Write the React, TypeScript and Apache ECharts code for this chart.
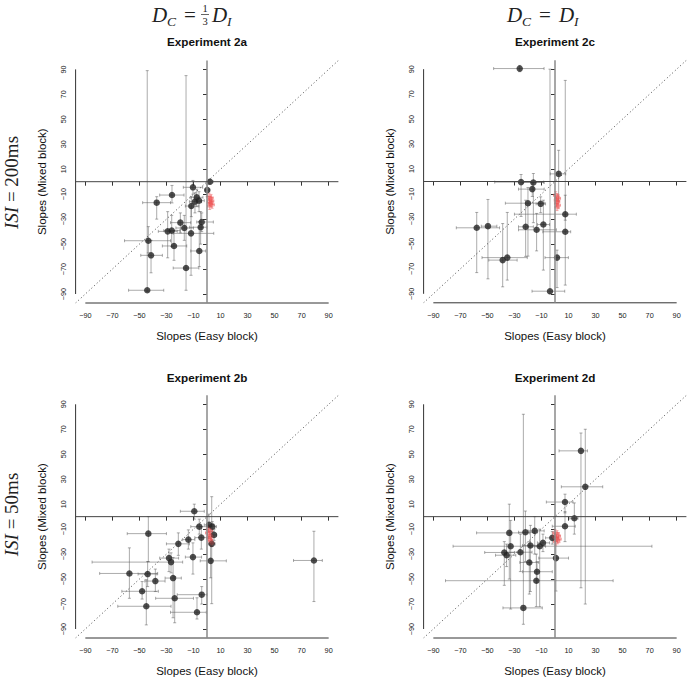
import React, { useEffect, useRef } from "react";
import * as echarts from "echarts";

const TICKS = [-90, -70, -50, -30, -10, 10, 30, 50, 70, 90];
const AXIS_MIN = -97.2;
const AXIS_MAX = 97.2;
const PANEL_TITLES = ["Experiment 2a", "Experiment 2c", "Experiment 2b", "Experiment 2d"];
const X_NAME = "Slopes (Easy block)";
const Y_NAME = "Slopes (Mixed block)";

// Experiment 2a (D_C = 1/3 D_I, ISI = 200ms)
const exp2aX = [2.2, 0.2, -10.4, -25.9, -37.2, -7.6, -5.9, -8.9, -11.6, -19.7, -3.9, -16.8, -4.7, -29.1, -26.1, -11.8, -43.4, -41.4, -24.4, -5.7, -15.5, -44.2];
const exp2aY = [0, -6.7, -4.5, -10.7, -16.8, -12.5, -15.2, -16, -19.5, -32.8, -32.3, -37.1, -36.5, -39.8, -39.2, -41.4, -47.3, -59, -51.5, -55.5, -69.2, -87];
const exp2aXLo = [0, -1.5, -17.5, -35, -47.6, -12, -9, -13, -16, -27, -7.6, -23, -13, -36, -32, -25, -61, -49, -33, -12, -25, -58];
const exp2aXHi = [4.5, 2, -3.2, -17, -27, -3, -2, -4, -6, -12, 4.7, -10, 0, -22, -20, 5, -27, -33, -15, -1, -6, -32];
const exp2aYLo = [-2, -12, -10, -17, -30, -20, -24, -25, -28, -41, -40, -47, -50, -61, -52, -75, -57, -73, -63, -68, -87, -88];
const exp2aYHi = [2, -2, 1, -3, -12, -6, -8, -9, -12, -25, -25, -27, -24, -24, -27, -21, -36, -47, -39, -32, 85, 89];
const exp2aRedX = [1.5, 3, 2.2, 3.5, 1.8, 2.8, 3.8, 2];
const exp2aRedY = [-12, -13, -14.5, -15.5, -16.5, -17.5, -18.5, -19.5];

// Experiment 2c (D_C = D_I, ISI = 200ms)
const exp2cX = [-26.1, 2.7, -25.1, -16, -16.8, -20, -10.6, 7.6, 7.6, -21.7, -8.6, -13.6, -57.9, -49.6, -38.7, -35.3, 1.5, -3.7];
const exp2cY = [90.5, 6.1, -0.5, -0.8, -6.1, -17.4, -17.9, -26.2, -40.3, -36.3, -34.5, -38.7, -37.1, -35.8, -63, -61, -61, -87.9];
const exp2cXLo = [-45.4, -3.5, -44.6, -24, -27, -36.7, -14, -30, -9, -27, -13, -27, -73, -54.5, -49, -54, -7.4, -17];
const exp2cXHi = [-8.1, 7.9, -8.4, -8, -8, -7.9, -7, 15.8, 11.6, -16, -4, 1, -41, -43, -28, -20.5, 9.9, 7.2];
const exp2cYLo = [88, -15, -28, -33, -12, -59.8, -25, -31, -83, -60, -71, -55.6, -73, -78, -84.4, -79, -85, -90];
const exp2cYHi = [93, 25, 5.6, 6.4, -1, -4.8, -12.3, -11, 81, -15, -15, -25.6, -24.8, -14.4, -33.7, -24.8, -55, 90];
const exp2cRedX = [0.5, 1.5, 2.5, 1, 2, 1.2, 2.4, 1.5];
const exp2cRedY = [-11, -12.5, -13.5, -15, -16, -17.5, -19, -20.5];

// Experiment 2b (D_C = 1/3 D_I, ISI = 50ms)
const exp2bX = [-9.4, 1.5, 3.9, -5.7, 5.2, -4.2, 3.5, -43.4, -13.8, -21.2, -28.1, -26.6, -10.4, 2.7, 79.1, -57.4, -43.9, -38.2, -25.1, -48, -23.9, -3.9, -44.9, -7.4];
const exp2bY = [4.3, -6.6, -8, -8, -14.6, -16.8, -21.8, -13.6, -18.4, -21.8, -33.2, -36.4, -32.4, -35.4, -35.1, -45.5, -46, -51.6, -49.2, -59.8, -65.4, -62.5, -71.8, -76.6];
const exp2bXLo = [-19.7, -2, 1, -12, 3, -9, 1, -59, -18, -30, -35, -85, -16, -5, 64, -79.4, -51, -46, -31, -63, -38, -22, -66, -27];
const exp2bXHi = [-2, 5, 7, 1, 7, 1, 6, -30, -9, -13, -21, -18, -4, 14.3, 85.3, -36.5, -37, -31, -19, -36, -10, 0, -26.6, -0.5];
const exp2bYLo = [-2, -12, -12, -14, -19, -26, -69.7, -36, -26, -31, -44, -45, -46, -49, -68, -65.4, -56, -60, -81, -66, -85, -70, -86.7, -82];
const exp2bYHi = [10, 2, -4, -2, -10, -8, 16, 0, -10.6, -13, -26, -29, -21, -22, -11.7, -25, -36, -42, -32.7, -52, -48, -56, -50.5, -65];
const exp2bRedX = [1, 2.5, 0.5, 2, 3, 1.5, 2.5, 3.5];
const exp2bRedY = [-10, -11.5, -13, -14.5, -16, -17.5, -19, -21];

// Experiment 2d (D_C = D_I, ISI = 50ms)
const exp2dX = [19.2, 22.4, 7.4, 14.3, 7.4, -2, -33.8, -21.9, -15, -32.8, -18.2, -11.3, -8.9, -37.5, -35.8, -25.6, -19, 0.7, -13.3, -13.8, -23.4];
const exp2dY = [52.7, 23.9, 11.7, -1.3, -7.7, -17, -13, -12.5, -11.4, -23.7, -23.1, -23.7, -21, -28.7, -30.9, -28.5, -36.7, -33.2, -44.1, -51.3, -73.1];
const exp2dXLo = [3, 4.7, -6.4, 11, -2, -7, -58, -27, -20, -75.4, -24, -15, -13, -52, -44, -36, -26, -12, -24, -81, -38.5];
const exp2dXHi = [24, 35.3, 13.3, 17, 15, 2, -19, -15, -8, 71.7, -12, -7, -4, -30, -29, -17, -12, 10, -2, 43, -9.4];
const exp2dYLo = [-57, -70, 3, -14, -20, -22, -50, -36, -30, -74, -60, -72, -28, -55, -40, -44, -62, -59.6, -53, -72, -86.2];
const exp2dYHi = [67, 70, 18, 11, 4, -12, 10, 4.5, 0, -3, -7, -10, -14, -20, -22, -14, -20, -18, -36, -30, 82];
const exp2dRedX = [0, 1.5, 2.5, -0.5, 1, 3, 2, 0.5];
const exp2dRedY = [-13, -14, -15.5, -16, -17, -18, -19, -20];

type Panel = {
  x: number[]; y: number[]; xLo: number[]; xHi: number[]; yLo: number[]; yHi: number[];
  rx: number[]; ry: number[];
};

const PANELS: Panel[] = [
  { x: exp2aX, y: exp2aY, xLo: exp2aXLo, xHi: exp2aXHi, yLo: exp2aYLo, yHi: exp2aYHi, rx: exp2aRedX, ry: exp2aRedY },
  { x: exp2cX, y: exp2cY, xLo: exp2cXLo, xHi: exp2cXHi, yLo: exp2cYLo, yHi: exp2cYHi, rx: exp2cRedX, ry: exp2cRedY },
  { x: exp2bX, y: exp2bY, xLo: exp2bXLo, xHi: exp2bXHi, yLo: exp2bYLo, yHi: exp2bYHi, rx: exp2bRedX, ry: exp2bRedY },
  { x: exp2dX, y: exp2dY, xLo: exp2dXLo, xHi: exp2dXHi, yLo: exp2dYLo, yHi: exp2dYHi, rx: exp2dRedX, ry: exp2dRedY },
];

const GRID_POS = [
  { left: 75.6, top: 60.4, width: 262.8, height: 242.6 },
  { left: 423.6, top: 60.2, width: 262.8, height: 242.6 },
  { left: 75.6, top: 395.3, width: 262.8, height: 243.8 },
  { left: 423.6, top: 395.3, width: 262.8, height: 243.8 },
];
const TITLE_POS = [
  [207, 41.5], [555, 41.5], [207, 377.5], [555, 377.5],
];

const SANS = "Liberation Sans, Arial, Helvetica, sans-serif";
const SERIF = "Liberation Serif, Times New Roman, serif";

function errRender(color: string, cap: number) {
  return (params: any, api: any) => {
    const x = api.value(0), y = api.value(1);
    const xl = api.value(2), xh = api.value(3), yl = api.value(4), yh = api.value(5);
    const pL = api.coord([xl, y]);
    const pR = api.coord([xh, y]);
    const pB = api.coord([x, yl]);
    const pT = api.coord([x, yh]);
    const style = { stroke: color, lineWidth: 1, fill: "none" };
    const ln = (x1: number, y1: number, x2: number, y2: number) => ({
      type: "line", shape: { x1, y1, x2, y2 }, style,
    });
    return {
      type: "group",
      children: [
        ln(pL[0], pL[1], pR[0], pR[1]),
        ln(pL[0], pL[1] - cap, pL[0], pL[1] + cap),
        ln(pR[0], pR[1] - cap, pR[0], pR[1] + cap),
        ln(pB[0], pB[1], pT[0], pT[1]),
        ln(pB[0] - cap, pB[1], pB[0] + cap, pB[1]),
        ln(pT[0] - cap, pT[1], pT[0] + cap, pT[1]),
      ],
    };
  };
}

const fmt = (v: number) => String(v).replace("-", "\u2212");

function buildOption() {
  const grid: any[] = [];
  const xAxis: any[] = [];
  const yAxis: any[] = [];
  const series: any[] = [];
  const graphic: any[] = [];

  PANELS.forEach((p, i) => {
    grid.push({ ...GRID_POS[i], containLabel: false });
    xAxis.push({
      gridIndex: i, type: "value", min: AXIS_MIN, max: AXIS_MAX,
      splitLine: { show: false },
      axisLine: { show: false },
      axisTick: { show: true, customValues: TICKS, length: 4, lineStyle: { color: "#333", width: 1 } },
      axisLabel: { customValues: TICKS, fontSize: 7.3, color: "#222", margin: 9, fontFamily: SANS, formatter: fmt },
      name: X_NAME, nameLocation: "middle", nameGap: 27,
      nameTextStyle: { fontSize: 11.5, color: "#111", fontFamily: SANS },
    });
    yAxis.push({
      gridIndex: i, type: "value", min: AXIS_MIN, max: AXIS_MAX,
      splitLine: { show: false },
      axisLine: { show: false },
      axisTick: { show: true, customValues: TICKS, length: 4, lineStyle: { color: "#333", width: 1 } },
      axisLabel: { customValues: TICKS, fontSize: 7.3, color: "#222", margin: 9, rotate: 90, fontFamily: SANS, formatter: fmt },
      name: Y_NAME, nameLocation: "middle", nameGap: 28,
      nameTextStyle: { fontSize: 11.5, color: "#111", fontFamily: SANS },
    });

    const ax = { xAxisIndex: i, yAxisIndex: i };
    // axis lines (R style, from first to last tick)
    series.push({
      type: "line", ...ax, data: [[TICKS[0], AXIS_MIN], [TICKS[TICKS.length - 1], AXIS_MIN]],
      symbol: "none", clip: false, silent: true, lineStyle: { color: "#333", width: 1 },
    });
    series.push({
      type: "line", ...ax, data: [[AXIS_MIN, TICKS[0]], [AXIS_MIN, TICKS[TICKS.length - 1]]],
      symbol: "none", clip: false, silent: true, lineStyle: { color: "#333", width: 1 },
    });
    // identity diagonal
    series.push({
      type: "line", ...ax, data: [[AXIS_MIN, AXIS_MIN], [AXIS_MAX, AXIS_MAX]],
      symbol: "none", silent: true, lineStyle: { color: "#333", width: 0.9, type: [1, 2.6] },
    });
    // zero lines
    series.push({
      type: "line", ...ax, data: [[0, AXIS_MIN], [0, AXIS_MAX]],
      symbol: "none", silent: true, clip: false, lineStyle: { color: "#8a8a8a", width: 1.5 },
    });
    series.push({
      type: "line", ...ax, data: [[AXIS_MIN, 0], [AXIS_MAX, 0]],
      symbol: "none", silent: true, clip: false, lineStyle: { color: "#444", width: 1 },
    });
    // error bars (black participants)
    series.push({
      type: "custom", ...ax,
      data: p.x.map((v, k) => [v, p.y[k], p.xLo[k], p.xHi[k], p.yLo[k], p.yHi[k]]),
      encode: { x: 0, y: 1 },
      renderItem: errRender("rgba(90,90,90,0.5)", 1.5),
      silent: true,
    });
    // red group (error bars)
    series.push({
      type: "custom", ...ax,
      data: p.rx.map((v, k) => [v, p.ry[k], v - 1.6, v + 1.6, p.ry[k] - 2.8, p.ry[k] + 2.8]),
      encode: { x: 0, y: 1 },
      renderItem: errRender("rgba(235,80,80,0.45)", 1.5),
      silent: true,
    });
    series.push({
      type: "scatter", ...ax,
      data: p.x.map((v, k) => [v, p.y[k]]),
      symbol: "circle", symbolSize: 6.5,
      itemStyle: { color: "#232323" },
      silent: true,
    });
    series.push({
      type: "scatter", ...ax,
      data: p.rx.map((v, k) => [v, p.ry[k]]),
      symbol: "circle", symbolSize: 5,
      itemStyle: { color: "rgba(240,90,90,0.35)" },
      silent: true,
    });

    graphic.push({
      type: "text", x: TITLE_POS[i][0], y: TITLE_POS[i][1],
      style: {
        text: PANEL_TITLES[i], fontSize: 11.7, fontWeight: "bold", fontFamily: SANS,
        fill: "#111", align: "center", verticalAlign: "middle",
      },
    });
  });

  // column headers
  const it = (text: string, x: number, y: number, size: number, italic = true, align = "left") => ({
    type: "text", x, y,
    style: {
      text, fontSize: size, fontStyle: italic ? "italic" : "normal", fontFamily: SERIF,
      fill: "#222", align, verticalAlign: "middle",
    },
  });
  // D_C = 1/3 D_I
  graphic.push(it("D", 152, 15, 21));
  graphic.push(it("C", 167, 21, 13.5));
  graphic.push(it("=", 184, 15, 21, false));
  graphic.push(it("1", 205, 8.5, 10.5, false, "center"));
  graphic.push({ type: "line", shape: { x1: 201, y1: 14.5, x2: 209, y2: 14.5 }, style: { stroke: "#222", lineWidth: 0.7 } });
  graphic.push(it("3", 205, 21, 10.5, false, "center"));
  graphic.push(it("D", 212, 15, 21));
  graphic.push(it("I", 227, 21, 13.5));
  // D_C = D_I
  graphic.push(it("D", 507, 15, 21));
  graphic.push(it("C", 522, 21, 13.5));
  graphic.push(it("=", 539, 15, 21, false));
  graphic.push(it("D", 559, 15, 21));
  graphic.push(it("I", 574, 21, 13.5));

  // row labels
  const rowLabel = (label: string, y: number) => ({
    type: "text", x: 11, y, rotation: Math.PI / 2,
    style: {
      text: "{i|ISI} = " + label,
      rich: { i: { fontStyle: "italic", fontSize: 19, fontFamily: SERIF, fill: "#222" } },
      fontSize: 19, fontFamily: SERIF, fill: "#222", align: "center", verticalAlign: "middle",
    },
  });
  graphic.push(rowLabel("200ms", 182.5));
  graphic.push(rowLabel("50ms", 514.5));

  return {
    animation: false,
    backgroundColor: "#ffffff",
    grid, xAxis, yAxis, series, graphic,
  };
}

export default function App() {
  const ref = useRef<HTMLDivElement>(null);
  useEffect(() => {
    if (!ref.current) return;
    const chart = echarts.init(ref.current, undefined, { renderer: "svg" });
    chart.setOption(buildOption() as any);
    return () => chart.dispose();
  }, []);
  return (
    <div
      ref={ref}
      style={{ position: "absolute", left: 0, top: 0, width: 687, height: 678, background: "#fff" }}
    />
  );
}
